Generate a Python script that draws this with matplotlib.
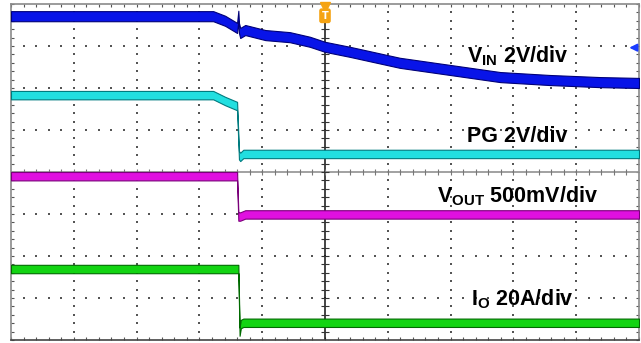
import numpy as np
import matplotlib.pyplot as plt

plt.rcParams['mathtext.fontset'] = 'custom'
plt.rcParams['mathtext.rm'] = 'Liberation Sans:bold'
plt.rcParams['mathtext.bf'] = 'Liberation Sans:bold'
plt.rcParams['mathtext.it'] = 'Liberation Sans:bold'

# scope screen: time and level in divisions (10 x 8)
t_vin = [0, 3.22, 3.41, 3.60, 3.62, 3.63, 3.65, 3.73, 4.05, 4.44, 4.76, 5.0, 5.40,
         6.19, 6.99, 7.79, 8.58, 9.38, 10]
v_vin = [7.71, 7.71, 7.60, 7.43, 7.72, 7.43, 7.31, 7.38, 7.26, 7.21, 7.10, 6.98, 6.86,
         6.60, 6.43, 6.26, 6.19, 6.14, 6.12]

t_pg = [0, 3.22, 3.41, 3.60, 3.63, 3.65, 3.70, 10]
v_pg = [5.83, 5.83, 5.69, 5.57, 4.40, 4.36, 4.43, 4.43]

t_vout = [0, 3.60, 3.62, 3.65, 3.73, 10]
v_vout = [3.90, 3.90, 2.94, 2.94, 2.99, 2.99]

t_io = [0, 3.62, 3.64, 3.66, 3.70, 10]
v_io = [1.69, 1.69, 0.20, 0.38, 0.41, 0.41]

trigger_time = 5.0
trigger_level = 6.96

fig = plt.figure(figsize=(6.41, 3.43), dpi=100)
ax = fig.add_axes([11 / 641, 3 / 343, 628 / 641, 336 / 343])
ax.set_xlim(0, 10)
ax.set_ylim(0, 8)

# frame + ticks
for sp in ax.spines.values():
    sp.set_color('#8a8a8a')
    sp.set_linewidth(1.2)
ax.spines['bottom'].set_color('#444444')
ax.set_xticks(np.arange(0, 11, 1))
ax.set_yticks(np.arange(0, 9, 1))
ax.set_xticks(np.arange(0, 10.01, 0.2), minor=True)
ax.set_yticks(np.arange(0, 8.01, 0.2), minor=True)
ax.tick_params(which='both', direction='in', length=2.5, width=0.8, color='#555555',
               top=True, right=True, labelbottom=False, labelleft=False)

# dotted graticule
yy = np.arange(0.2, 8, 0.2)
xx = np.arange(0.2, 10, 0.2)
for gx in [1, 2, 3, 4, 6, 7, 8, 9]:
    ax.scatter(np.full(len(yy), gx), yy, s=1.3, marker='s', color='#555555', linewidths=0)
for gy in [1, 2, 3, 5, 6, 7]:
    ax.scatter(xx, np.full(len(xx), gy), s=1.3, marker='s', color='#555555', linewidths=0)

# center cross
ax.axhline(4, color='#9a9a9a', lw=1.3)
ax.axvline(trigger_time, color='#111111', lw=1.1)
ax.plot(xx, np.full(len(xx), 4), ls='none', marker='|', ms=5, mew=0.8, color='#777777')
ax.plot(np.full(len(yy), trigger_time), yy, ls='none', marker='_', ms=6, mew=0.8, color='#333333')

# traces (noise band)
traces = [
    (t_vin, v_vin, 0.12, '#0814e8', '#000078'),
    (t_pg, v_pg, 0.10, '#22dfe0', '#007b7f'),
    (t_vout, v_vout, 0.10, '#e010e0', '#7a007a'),
    (t_io, v_io, 0.10, '#12d412', '#006a00'),
]
for t, v, w, fc, ec in traces:
    v = np.array(v)
    ax.fill_between(t, v - w, v + w, facecolor=fc, edgecolor=ec, lw=0.8, zorder=3)

# labels
lab = dict(fontsize=15.5, family='Liberation Sans', fontweight='bold', va='baseline', zorder=4)
ax.text(7.26, 6.60, r'V$_{\mathrm{IN}}$ 2V/div', **lab)
ax.text(7.26, 4.72, 'PG 2V/div', **lab)
ax.text(6.78, 3.27, r'V$_{\mathrm{OUT}}$ 500mV/div', **lab)
ax.text(7.32, 0.83, r'I$_{\mathrm{O}}$ 20A/div', **lab)

# trigger markers
orange = '#f5a312'
ax.plot(trigger_time, 7.93, marker='v', ms=7, color=orange, clip_on=False, zorder=5)
ax.text(trigger_time, 7.72, 'T', ha='center', va='center', color='white', fontsize=7,
        fontweight='bold', zorder=5,
        bbox=dict(boxstyle='round,pad=0.25', fc=orange, ec='none'))
ax.annotate('', xy=(9.80, trigger_level), xytext=(9.98, trigger_level),
            arrowprops=dict(arrowstyle='-|>', color='#1a3cff', lw=1.4, mutation_scale=11))

fig.savefig('out.png', dpi=100)
